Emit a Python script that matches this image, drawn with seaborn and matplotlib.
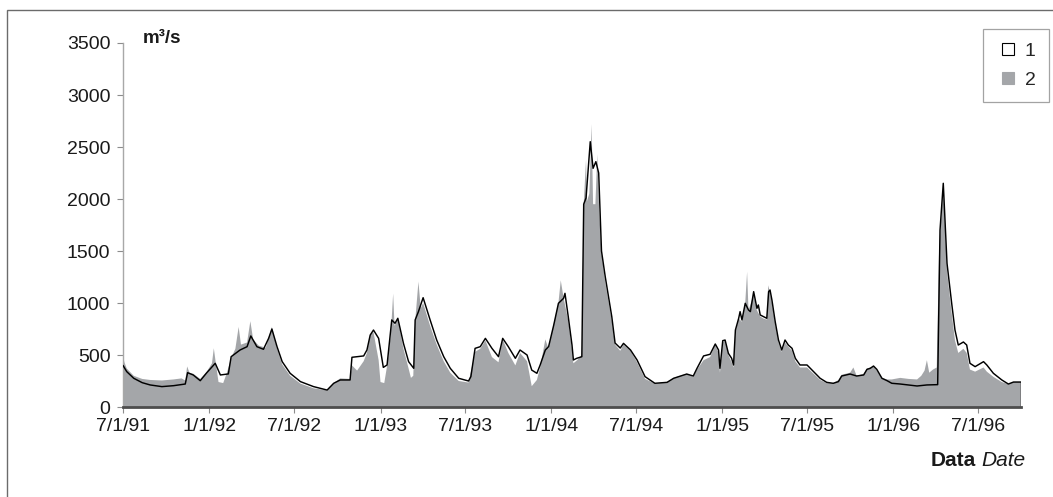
import pandas as pd
import matplotlib
matplotlib.use("Agg")
import matplotlib.pyplot as plt
from matplotlib.patches import Rectangle
from matplotlib.lines import Line2D
import seaborn as sns

# Daily discharge record, days counted from 1 July 1991
start = pd.Timestamp("1991-07-01")

# Series 1 (outlined, white)
day1 = [0, 8, 23, 41, 58, 83, 108, 133, 138, 150, 165, 179, 197, 208, 225, 231,
        250, 265, 273, 286, 300, 311, 318, 329, 340, 357, 379, 407, 436, 450,
        464, 485, 489, 514, 521, 528, 535, 546, 556, 564, 574, 581, 587, 599,
        610, 621, 624, 631, 641, 656, 670, 685, 699, 717, 738, 743, 752, 763,
        774, 788, 802, 811, 823, 838, 848, 863, 873, 884, 891, 902, 909, 920,
        930, 941, 944, 951, 959, 962, 969, 980, 984, 989, 998, 1004, 1010,
        1016, 1022, 1030, 1044, 1051, 1062, 1069, 1084, 1098, 1115, 1136,
        1162, 1176, 1204, 1218, 1226, 1240, 1254, 1265, 1272, 1275, 1281,
        1286, 1293, 1300, 1304, 1308, 1315, 1318, 1322, 1329, 1336, 1340,
        1347, 1354, 1357, 1361, 1368, 1375, 1379, 1382, 1386, 1393, 1400,
        1407, 1414, 1421, 1429, 1436, 1446, 1461, 1475, 1489, 1503, 1517,
        1528, 1535, 1553, 1567, 1582, 1589, 1596, 1603, 1610, 1621, 1632,
        1642, 1660, 1678, 1696, 1717, 1740, 1745, 1752, 1760, 1770, 1777,
        1784, 1795, 1802, 1809, 1820, 1838, 1845, 1859, 1877, 1891, 1902, 1918]
flow1 = [400, 340, 276, 234, 212, 196, 205, 221, 330, 308, 253, 330, 420, 308, 318, 484,
         548, 580, 683, 580, 555, 660, 750, 580, 436, 324, 244, 196, 163, 228,
         260, 260, 478, 491, 548, 692, 740, 660, 381, 404, 837, 805, 853, 612,
         436, 372, 837, 917, 1051, 837, 644, 484, 372, 276, 250, 292, 564, 580,
         660, 564, 484, 660, 580, 468, 548, 500, 355, 324, 404, 548, 580, 788,
         997, 1045, 1093, 869, 596, 452, 468, 484, 1950, 2010, 2551, 2295, 2359,
         2250, 1500, 1253, 868, 615, 567, 612, 548, 452, 292, 228,
         237, 276, 317, 298, 372, 491, 507, 606, 548, 372, 638,
         644, 516, 468, 404, 740, 853, 917, 837, 997, 933, 917,
         1109, 949, 981, 885, 869, 853, 1109, 1125, 1029, 821, 644,
         548, 644, 596, 564, 468, 404, 404, 340, 276, 237, 228,
         244, 298, 317, 298, 308, 362, 372, 394, 362, 276, 253,
         228, 221, 212, 202, 212, 215, 1700, 2151, 1381, 995, 740,
         596, 625, 596, 420, 388, 436, 404, 324, 260, 221, 240, 240]

# Series 2 (grey fill)
day2 = [0, 3, 8, 23, 41, 58, 83, 108, 125, 133, 137, 142, 150, 165, 179, 190, 194,
        198, 204, 214, 222, 231, 240, 247, 252, 265, 272, 278, 290, 305, 318,
        329, 340, 357, 379, 407, 436, 450, 464, 485, 489, 500, 514, 521, 528,
        535, 546, 550, 558, 565, 572, 577, 580, 587, 599, 610, 615, 620, 624,
        631, 636, 641, 656, 670, 685, 699, 717, 738, 745, 752, 763, 774, 788,
        802, 811, 823, 838, 848, 863, 873, 884, 891, 902, 909, 920, 930, 935,
        941, 951, 959, 962, 970, 980, 984, 989, 991, 996, 1001, 1004, 1009,
        1013, 1017, 1022, 1030, 1044, 1051, 1062, 1069, 1084, 1098, 1115,
        1136, 1162, 1176, 1204, 1218, 1226, 1240, 1254, 1265, 1272, 1275,
        1281, 1286, 1293, 1300, 1304, 1308, 1315, 1322, 1329, 1333, 1336,
        1347, 1354, 1361, 1368, 1375, 1378, 1382, 1386, 1393, 1400, 1407,
        1414, 1421, 1429, 1436, 1446, 1461, 1475, 1489, 1503, 1517, 1528,
        1535, 1553, 1560, 1567, 1582, 1589, 1596, 1603, 1610, 1621, 1632,
        1642, 1660, 1678, 1696, 1705, 1712, 1717, 1722, 1730, 1738, 1743,
        1752, 1760, 1770, 1777, 1784, 1795, 1802, 1809, 1820, 1838, 1845,
        1859, 1877, 1891, 1902, 1918]
flow2 = [500, 430, 370, 300, 270, 260, 255, 265, 275, 255, 390, 330, 320, 270, 340, 420, 565,
         430, 240, 230, 330, 470, 560, 770, 600, 620, 825, 650, 590, 570, 770,
         560, 410, 300, 225, 180, 160, 230, 275, 270, 400, 350, 440, 520, 700,
         720, 450, 240, 230, 420, 700, 1090, 780, 850, 560, 370, 280, 300, 820,
         1205, 950, 1000, 780, 600, 440, 330, 250, 235, 380, 530, 560, 640, 480,
         430, 650, 520, 400, 520, 440, 200, 260, 380, 650, 560, 800, 1000, 1218,
         1050, 830, 550, 420, 450, 500, 1950, 2380, 1980, 2050, 2720, 1950, 1950,
         2430, 1900, 1480, 1200, 830, 600, 540, 600, 540, 430, 270,
         225, 240, 280, 320, 290, 360, 450, 480, 600, 520, 330,
         620, 640, 500, 430, 380, 720, 850, 820, 1000, 1300, 930,
         1080, 930, 870, 850, 840, 1170, 1100, 1000, 800, 620, 530,
         620, 580, 540, 440, 380, 380, 320, 260, 230, 230, 260,
         310, 330, 380, 300, 320, 370, 380, 390, 350, 280, 265,
         265, 280, 270, 265, 300, 350, 450, 330, 360, 380, 1500,
         2100, 1300, 900, 640, 520, 560, 520, 360, 340, 380, 340,
         290, 240, 220, 240, 240]

tick_dates = ["1991-07-01", "1992-01-01", "1992-07-01", "1993-01-01", "1993-07-01",
              "1994-01-01", "1994-07-01", "1995-01-01", "1995-07-01", "1996-01-01",
              "1996-07-01"]
tick_labels = ["7/1/91", "1/1/92", "7/1/92", "1/1/93", "7/1/93", "1/1/94",
               "7/1/94", "1/1/95", "7/1/95", "1/1/96", "7/1/96"]
y_ticks = [0, 500, 1000, 1500, 2000, 2500, 3000, 3500]
series_labels = ["1", "2"]

GREY = "#a4a6a9"
TEXT = "#1a1a1a"

sns.set_theme(style="white")
plt.rcParams["font.family"] = ["Liberation Sans", "DejaVu Sans"]

d1 = pd.DataFrame({"date": start + pd.to_timedelta(day1, unit="D"), "flow": flow1})
d2 = pd.DataFrame({"date": start + pd.to_timedelta(day2, unit="D"), "flow": flow2})

W, H = 1053, 497
fig = plt.figure(figsize=(W / 100, H / 100), dpi=100)
fig.patch.set_facecolor("white")
ax = fig.add_axes([123 / W, 90 / H, 898 / W, 364 / H])

ax.fill_between(d1["date"], d1["flow"], 0, facecolor="white", edgecolor="none", zorder=1)
ax.fill_between(d2["date"], d2["flow"], 0, facecolor=GREY, edgecolor="none", lw=0, zorder=2)
sns.lineplot(data=d1, x="date", y="flow", color="black", lw=1.05, ax=ax,
             estimator=None, zorder=3)
ax.vlines(d1["date"].iloc[-1], 0, d1["flow"].iloc[-1], color="black", lw=1.05, zorder=3)

ax.set_xlim(d1["date"].iloc[0], d1["date"].iloc[-1])
ax.set_ylim(y_ticks[0], y_ticks[-1])
ax.set_xticks(pd.to_datetime(tick_dates))
ax.set_xticklabels(tick_labels)
ax.set_yticks(y_ticks)
ax.set_xlabel("")
ax.set_ylabel("")
ax.tick_params(axis="both", direction="out", length=4, width=0.8, color="#8c8c8c",
               labelsize=14, labelcolor=TEXT, pad=5)
ax.tick_params(axis="x", bottom=True, pad=4)
ax.tick_params(axis="y", left=True)

for side in ("top", "right"):
    ax.spines[side].set_visible(False)
ax.spines["left"].set_color("#a8a8a8")
ax.spines["left"].set_linewidth(1.0)
ax.spines["bottom"].set_color("#4d4d4d")
ax.spines["bottom"].set_linewidth(2.0)
ax.spines["bottom"].set_zorder(4)
ax.set_facecolor("white")

# unit and axis caption
fig.text(143 / W, 1 - 43 / H, "m³/s", fontsize=13.5, fontweight="bold",
         ha="left", va="baseline", color=TEXT)
fig.text(931 / W, 1 - 466 / H, "Data", fontsize=15, fontweight="bold",
         ha="left", va="baseline", color=TEXT)
fig.text(981 / W, 1 - 466 / H, "Date", fontsize=15, fontstyle="italic",
         ha="left", va="baseline", color=TEXT)

handles = [Line2D([], [], linestyle="none", marker="s", markersize=8.5,
                  markerfacecolor="white", markeredgecolor="black", markeredgewidth=0.8),
           Line2D([], [], linestyle="none", marker="s", markersize=8.5,
                  markerfacecolor=GREY, markeredgecolor=GREY, markeredgewidth=0.8)]
leg = fig.legend(handles, series_labels, loc="upper left",
                 bbox_to_anchor=(983 / W, 1 - 29 / H), frameon=True, fancybox=False,
                 edgecolor="#8c8c8c", fontsize=14, handlelength=1.2,
                 handletextpad=0.25, labelspacing=0.55,
                 borderpad=0.7, borderaxespad=0)
leg.get_frame().set_linewidth(0.9)

# outer frame of the figure panel
fig.patches.append(Rectangle((7 / W, -0.5), 2.0, 1.5 - 9.5 / H, transform=fig.transFigure,
                             fill=False, edgecolor="#6b6b6b", lw=1.0))

fig.savefig("out.png", dpi=100)
